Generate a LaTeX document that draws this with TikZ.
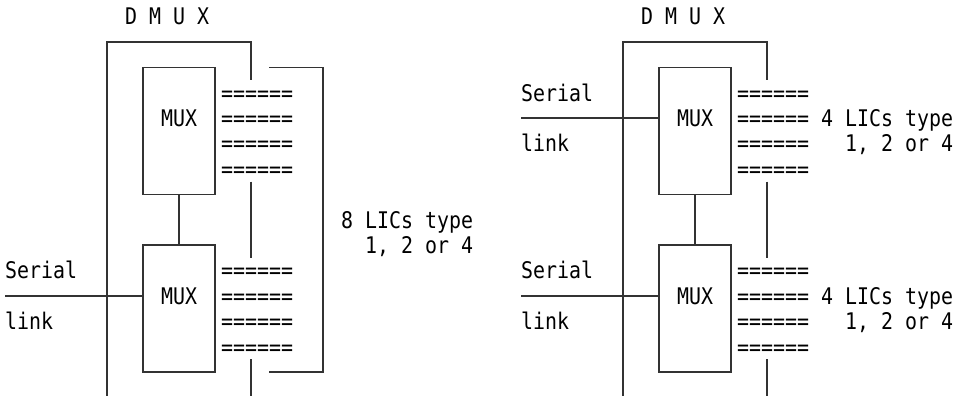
\documentclass[tikz,border=0pt]{standalone}
\usepackage{fontspec}
\usepackage{tikz}
\newfontfamily\asciifont[FakeStretch=0.87]{DejaVu Sans Mono}

\begin{document}
\begin{tikzpicture}[x=12pt, y=-25.4pt,
    wire/.style={black!80, line width=1.3pt},
    muxbox/.style={draw=black!80, line width=1.3pt, minimum width=72pt, minimum height=127pt, inner sep=0pt},
    txt/.style={anchor=base west, inner sep=0pt, font=\asciifont\fontsize{22.9}{25}\selectfont}]
    \useasboundingbox (-0.9167,-0.6496) rectangle (78.75,14.941);

    % Left DMUX: one serial link, 8 LICs
    \node[txt] (dmuxA) at (9.5,0.33) {D M U X};
    \draw[wire] (8,15) |- (20,1) -- (20,2.5);
    \draw[wire] (20,6.5) -- (20,9.5);
    \draw[wire] (20,13.5) -- (20,15);

    \node[muxbox] (muxA1) at (14,4.5) {};
    \node[muxbox] (muxA2) at (14,11.5) {};
    \node[txt] (labA1) at (12.5,4.33) {MUX};
    \node[txt] (labA2) at (12.5,11.33) {MUX};
    \draw[wire] (muxA1.south) -- (muxA2.north);

    \foreach \r in {3,...,6,10,11,12,13}
        \node[txt] (licA\r) at (17.5,\r+0.33) {======};

    % Bracket round the eight LIC rows
    \draw[wire] (21.5,2) -| (26,14) -- (21.5,14);
    \node[txt] (typeA) at (27.5,8.33) {8 LICs type};
    \node[txt] (optA) at (29.5,9.33) {1, 2 or 4};

    % Serial link into the lower MUX
    \node[txt] (serA) at (-0.5,10.33) {Serial};
    \node[txt] (linkA) at (-0.5,12.33) {link};
    \coordinate (inA) at (-0.5,11);
    \draw[wire] (inA) -- (inA -| muxA2.west);

    % Right DMUX: two serial links, 4 LICs each
    \node[txt] (dmuxB) at (52.5,0.33) {D M U X};
    \draw[wire] (51,15) |- (63,1) -- (63,2.5);
    \draw[wire] (63,6.5) -- (63,9.5);
    \draw[wire] (63,13.5) -- (63,15);

    \node[muxbox] (muxB1) at (57,4.5) {};
    \node[muxbox] (muxB2) at (57,11.5) {};
    \node[txt] (labB1) at (55.5,4.33) {MUX};
    \node[txt] (labB2) at (55.5,11.33) {MUX};
    \draw[wire] (muxB1.south) -- (muxB2.north);

    \foreach \r in {3,...,6,10,11,12,13}
        \node[txt] (licB\r) at (60.5,\r+0.33) {======};

    \node[txt] (typeB1) at (67.5,4.33) {4 LICs type};
    \node[txt] (optB1) at (69.5,5.33) {1, 2 or 4};
    \node[txt] (typeB2) at (67.5,11.33) {4 LICs type};
    \node[txt] (optB2) at (69.5,12.33) {1, 2 or 4};

    \node[txt] (serB1) at (42.5,3.33) {Serial};
    \node[txt] (linkB1) at (42.5,5.33) {link};
    \coordinate (inB1) at (42.5,4);
    \draw[wire] (inB1) -- (inB1 -| muxB1.west);

    \node[txt] (serB2) at (42.5,10.33) {Serial};
    \node[txt] (linkB2) at (42.5,12.33) {link};
    \coordinate (inB2) at (42.5,11);
    \draw[wire] (inB2) -- (inB2 -| muxB2.west);
\end{tikzpicture}
\end{document}
